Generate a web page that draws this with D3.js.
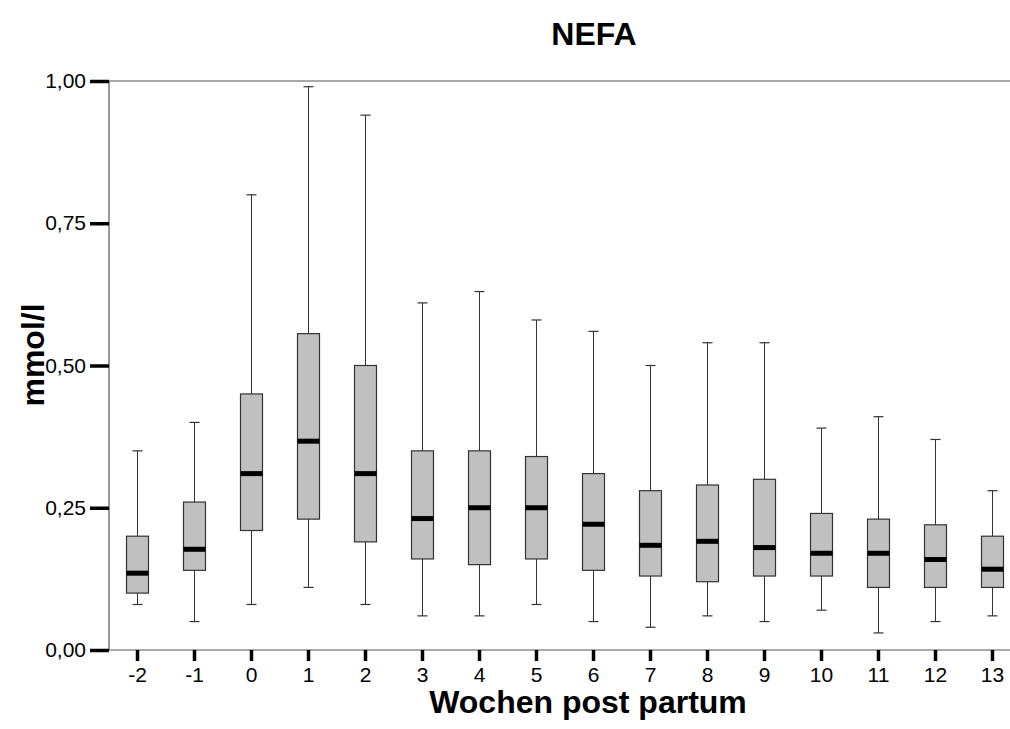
<!DOCTYPE html>
<html>
<head>
<meta charset="utf-8">
<script src="https://cdn.jsdelivr.net/npm/d3@7"></script>
<style>
  html, body { margin: 0; padding: 0; background: #fff; }
  svg { display: block; }
  text { font-family: "Liberation Sans", Arial, sans-serif; }
</style>
</head>
<body>
<svg id="chart" width="1010" height="729"></svg>
<script>
// Weeks relative to calving
const weeks = ["-2", "-1", "0", "1", "2", "3", "4", "5", "6", "7", "8", "9", "10", "11", "12", "13"];
// Box plot statistics per week (mmol/l)
const whiskerLow  = [0.08, 0.05, 0.08, 0.11, 0.08, 0.06, 0.06, 0.08, 0.05, 0.04, 0.06, 0.05, 0.07, 0.03, 0.05, 0.06];
const q1          = [0.10, 0.14, 0.21, 0.23, 0.19, 0.16, 0.15, 0.16, 0.14, 0.13, 0.12, 0.13, 0.13, 0.11, 0.11, 0.11];
const median      = [0.135, 0.177, 0.31, 0.367, 0.31, 0.231, 0.25, 0.25, 0.221, 0.184, 0.191, 0.18, 0.17, 0.17, 0.159, 0.142];
const q3          = [0.20, 0.26, 0.45, 0.556, 0.50, 0.35, 0.35, 0.34, 0.31, 0.28, 0.29, 0.30, 0.24, 0.23, 0.22, 0.20];
const whiskerHigh = [0.35, 0.40, 0.80, 0.99, 0.94, 0.61, 0.63, 0.58, 0.56, 0.50, 0.54, 0.54, 0.39, 0.41, 0.37, 0.28];
// Y axis ticks
const yTicks = [0, 0.25, 0.5, 0.75, 1.0];
const yTickLabels = ["0,00", "0,25", "0,50", "0,75", "1,00"];

const svg = d3.select("#chart");
const plotLeft = 109, plotTop = 81, plotBottom = 650, plotRight = 1010;

const x = d3.scaleBand().domain(weeks).range([plotLeft, plotLeft + 57 * weeks.length]).padding(0);
const y = d3.scaleLinear().domain([0, 1]).range([plotBottom, plotTop]);

const data = weeks.map((w, i) => ({
  w, lo: whiskerLow[i], q1: q1[i], med: median[i], q3: q3[i], hi: whiskerHigh[i]
}));

// Frame lines
svg.append("line").attr("x1", plotLeft).attr("x2", plotRight).attr("y1", plotTop).attr("y2", plotTop)
  .attr("stroke", "#555").attr("stroke-width", 1.2);
svg.append("line").attr("x1", plotLeft).attr("x2", plotRight).attr("y1", plotBottom).attr("y2", plotBottom)
  .attr("stroke", "#555").attr("stroke-width", 1.2);
svg.append("line").attr("x1", plotLeft).attr("x2", plotLeft).attr("y1", plotTop).attr("y2", plotBottom)
  .attr("stroke", "#555").attr("stroke-width", 1.2);

// Y axis ticks and labels
const yAxis = d3.axisLeft(y).tickValues(yTicks)
  .tickFormat((d, i) => yTickLabels[i]).tickSize(19).tickPadding(4);
const gy = svg.append("g").attr("transform", `translate(${plotLeft},0)`).call(yAxis);
gy.attr("font-size", 21).attr("font-family", '"Liberation Sans", Arial, sans-serif');
gy.select(".domain").remove();
gy.selectAll(".tick line").attr("stroke", "#000").attr("stroke-width", 3.5);
gy.selectAll(".tick text").attr("fill", "#000");

// X axis ticks and labels
const xAxis = d3.axisBottom(x).tickSize(11).tickPadding(6);
const gx = svg.append("g").attr("transform", `translate(0,${plotBottom})`).call(xAxis);
gx.attr("font-size", 21).attr("font-family", '"Liberation Sans", Arial, sans-serif');
gx.select(".domain").remove();
gx.selectAll(".tick line").attr("stroke", "#000").attr("stroke-width", 3.5);
gx.selectAll(".tick text").attr("fill", "#000");

// Boxes
const boxW = 22, capW = 10;
const g = svg.append("g").selectAll("g").data(data).join("g")
  .attr("transform", d => `translate(${x(d.w) + x.bandwidth() / 2},0)`);

g.append("line").attr("x1", 0).attr("x2", 0)
  .attr("y1", d => y(d.hi)).attr("y2", d => y(d.lo))
  .attr("stroke", "#333").attr("stroke-width", 1);
g.append("line").attr("x1", -capW / 2).attr("x2", capW / 2)
  .attr("y1", d => y(d.hi)).attr("y2", d => y(d.hi))
  .attr("stroke", "#333").attr("stroke-width", 1.2);
g.append("line").attr("x1", -capW / 2).attr("x2", capW / 2)
  .attr("y1", d => y(d.lo)).attr("y2", d => y(d.lo))
  .attr("stroke", "#333").attr("stroke-width", 1.2);
g.append("rect").attr("x", -boxW / 2).attr("width", boxW)
  .attr("y", d => y(d.q3)).attr("height", d => y(d.q1) - y(d.q3))
  .attr("fill", "#c0c0c0").attr("stroke", "#333").attr("stroke-width", 1.2);
g.append("line").attr("x1", -boxW / 2).attr("x2", boxW / 2)
  .attr("y1", d => y(d.med)).attr("y2", d => y(d.med))
  .attr("stroke", "#000").attr("stroke-width", 5);

// Titles
svg.append("text").attr("x", 594).attr("y", 45).attr("text-anchor", "middle")
  .attr("font-size", 32).attr("font-weight", "bold").text("NEFA");
svg.append("text").attr("x", 588).attr("y", 713).attr("text-anchor", "middle")
  .attr("font-size", 32).attr("font-weight", "bold").text("Wochen post partum");
svg.append("text").attr("transform", "translate(44,355) rotate(-90)").attr("text-anchor", "middle")
  .attr("font-size", 32).attr("font-weight", "bold").text("mmol/l");
</script>
</body>
</html>
